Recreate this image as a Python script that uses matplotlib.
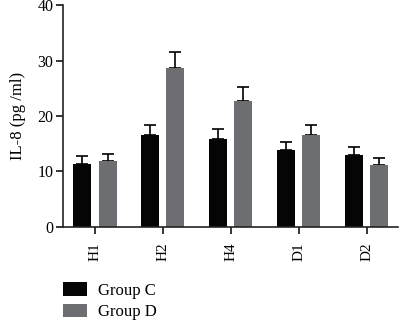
import matplotlib
matplotlib.use("Agg")
import matplotlib.pyplot as plt
import numpy as np
from matplotlib.patches import Patch

categories = ["H1", "H2", "H4", "D1", "D2"]
group_c = [11.3, 16.5, 15.8, 13.8, 12.9]
group_c_err = [1.4, 1.8, 1.8, 1.5, 1.5]
group_d = [11.8, 28.6, 22.7, 16.6, 11.2]
group_d_err = [1.3, 2.9, 2.6, 1.8, 1.3]
series_names = ["Group C", "Group D"]
yticks = [0, 10, 20, 30, 40]

plt.rcParams['font.family'] = ['Liberation Serif', 'DejaVu Serif']

fig = plt.figure(figsize=(3.99, 3.20), dpi=100)
ax = fig.add_axes([0.158, 0.291, 0.839, 0.693])

x = np.arange(len(categories))
w = 0.265
off = 0.185
col_c = "#050505"
col_d = "#6d6e72"
ax.bar(x - off, group_c, w, color=col_c, zorder=2)
ax.bar(x + off, group_d, w, color=col_d, zorder=2)
ax.errorbar(x - off, group_c, yerr=[np.zeros(5), group_c_err], fmt='none',
            ecolor='black', elinewidth=1.2, capsize=4, capthick=1.2, zorder=1)
ax.errorbar(x + off, group_d, yerr=[np.zeros(5), group_d_err], fmt='none',
            ecolor='black', elinewidth=1.2, capsize=4, capthick=1.2, zorder=1)

ax.set_xlim(-0.47, 4.46)
ax.set_ylim(0, 40)
ax.set_yticks(yticks)
ax.set_xticks(x)
ax.set_xticklabels(categories, rotation=90, fontsize=11)
ax.tick_params(axis='y', labelsize=11.5, length=5, width=1.1, direction='out', pad=2)
ax.tick_params(axis='x', length=5, width=1.1, direction='out', pad=6)
for s in ['top', 'right']:
    ax.spines[s].set_visible(False)
for s in ['left', 'bottom']:
    ax.spines[s].set_linewidth(1.2)
    ax.spines[s].set_color('#222222')
ax.set_ylabel("IL-8 (pg /ml)", fontsize=12, labelpad=8)

handles = [Patch(facecolor=col_c), Patch(facecolor=col_d)]
fig.legend(handles, series_names, loc='upper left', bbox_to_anchor=(0.158, 0.118),
           frameon=False, fontsize=12, handlelength=1.45, handleheight=0.85,
           labelspacing=0.3, handletextpad=0.65, borderaxespad=0, borderpad=0)

fig.savefig("out.png", dpi=100)
